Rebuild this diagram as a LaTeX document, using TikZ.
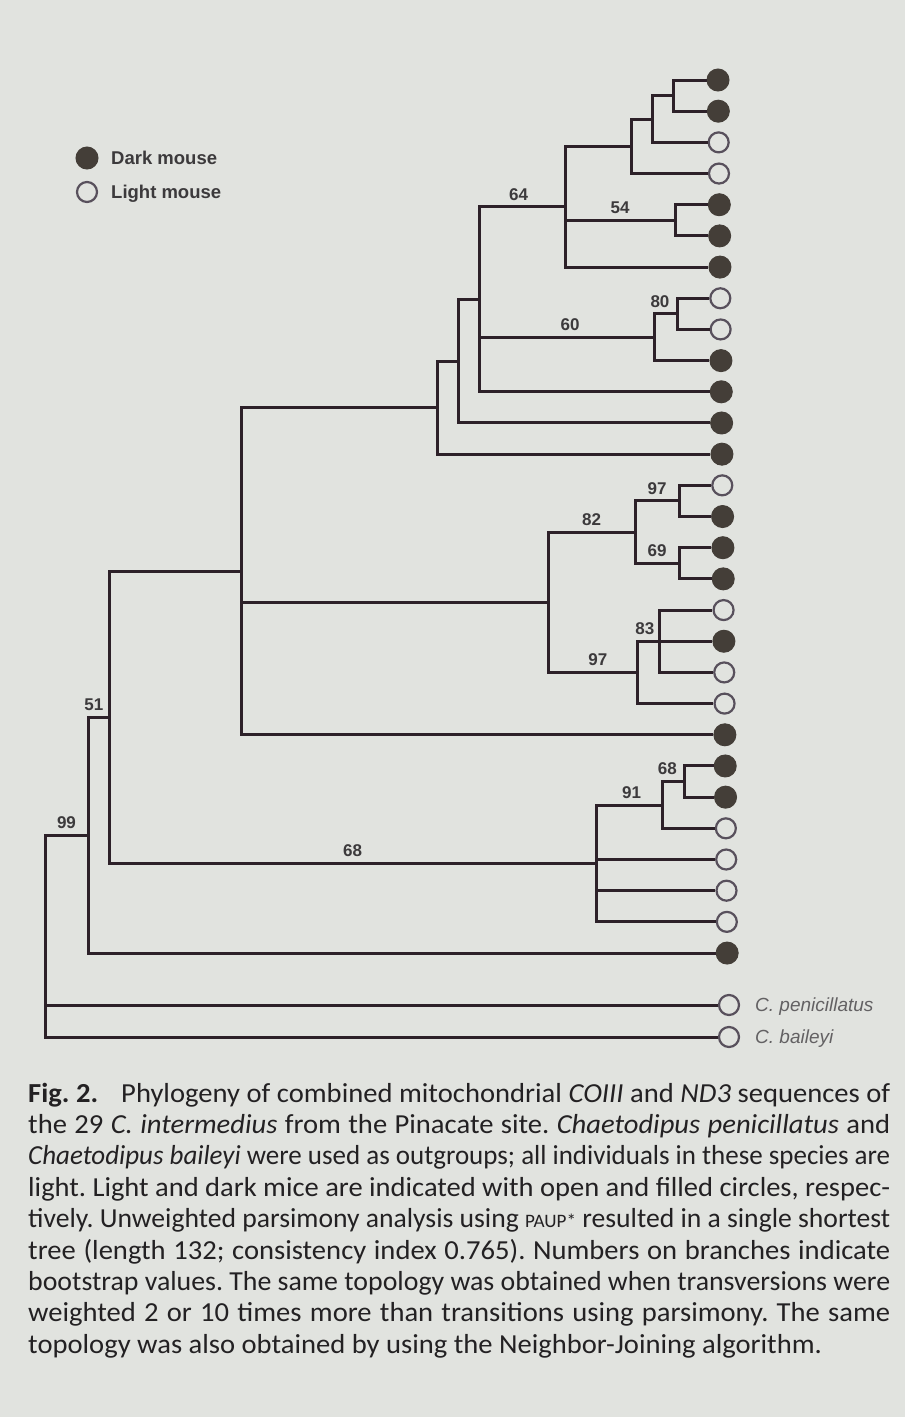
\documentclass[tikz,border=0pt]{standalone}
\usepackage{fontspec}
\usepackage{graphicx}
\setmainfont{Carlito}
\newfontfamily\capfont[FakeStretch=1.04]{Carlito}
\newfontfamily\arialf{Liberation Sans}
\definecolor{bg}{RGB}{225,227,223}
\definecolor{branch}{RGB}{45,33,41}
\definecolor{dotdark}{RGB}{68,62,56}
\definecolor{dotopen}{RGB}{88,80,92}
\definecolor{labc}{RGB}{60,58,60}
\definecolor{capc}{RGB}{35,33,35}
\newsavebox\capbox
\newcommand\capfit[1]{\sbox\capbox{#1}\ifdim\wd\capbox>862pt\relax\resizebox{862pt}{\ht\capbox}{\usebox\capbox}\else\makebox[862pt][s]{#1}\fi}
\tikzset{
  br/.style={draw=branch, line width=3pt, line join=miter},
  darkleaf/.style={circle, minimum size=22pt, inner sep=0pt, fill=dotdark, draw=dotdark, line width=1pt},
  lightleaf/.style={circle, minimum size=20pt, inner sep=0pt, fill=bg, draw=dotopen, line width=2.2pt},
  lab/.style={font=\arialf\bfseries\fontsize{17}{18}\selectfont, text=labc, inner sep=1pt, above=4pt},
  legtext/.style={font=\arialf\bfseries\fontsize{18.5}{20}\selectfont, text=labc, inner sep=0pt, anchor=base west},
  sptext/.style={font=\arialf\itshape\fontsize{19}{20}\selectfont, text=labc!80!white, inner sep=0pt, anchor=base west},
  capline/.style={font=\capfont\frenchspacing\fontsize{27.5}{31}\selectfont, text=capc, inner sep=0pt, anchor=base west}
}
\begin{document}
\begin{tikzpicture}[x=1pt,y=-1pt]
\useasboundingbox (0,0) rectangle (905,1417);
\fill[bg] (0,0) rectangle (905,1417);

% legend
\node[darkleaf] (legd) at (87,158) {};
\node[lightleaf] (legl) at (87,192) {};
\node[legtext] (legdt) at (111,164.5) {Dark mouse};
\node[legtext] (leglt) at (111,198.5) {Light mouse};

% leaves
\foreach \i/\t in {1/darkleaf,2/darkleaf,3/lightleaf,4/lightleaf,5/darkleaf,6/darkleaf,7/darkleaf,8/lightleaf,9/lightleaf,10/darkleaf,11/darkleaf,12/darkleaf,13/darkleaf,14/lightleaf,15/darkleaf,16/darkleaf,17/darkleaf,18/lightleaf,19/darkleaf,20/lightleaf,21/lightleaf,22/darkleaf,23/darkleaf,24/darkleaf,25/lightleaf,26/lightleaf,27/lightleaf,28/lightleaf,29/darkleaf}{
  \pgfmathsetmacro\yy{80+(\i-1)*31.18}
  \pgfmathsetmacro\xx{718+(\yy-80)*0.0105}
  \node[\t] (L\i) at (\xx,\yy) {};
}
\node[lightleaf] (Lpen) at (729,1005) {};
\node[lightleaf] (Lbai) at (729,1037) {};
\node[sptext] (tpen) at (755,1011.5) {C. penicillatus};
\node[sptext] (tbai) at (755,1043.5) {C. baileyi};

% internal nodes
\coordinate (n12) at (673,95.6);
\coordinate (n123) at (652,119);
\coordinate (nA) at (631,146.3);
\coordinate (n56) at (675,220.3);
\coordinate (n64) at (565,206.7);
\coordinate (n89) at (677,313.9);
\coordinate (n60) at (654,337.2);
\coordinate (nB) at (479,299.3);
\coordinate (nC) at (458,361.1);
\coordinate (nD) at (437,407.7);
\coordinate (n1415) at (679,500.9);
\coordinate (n1617) at (679,563.3);
\coordinate (n82) at (635,532.1);
\coordinate (n83) at (659,641.2);
\coordinate (n97b) at (637,672.4);
\coordinate (nF) at (548,602.3);
\coordinate (nE) at (241,571.3);
\coordinate (n2324) at (684,781.6);
\coordinate (n91) at (662,805);
\coordinate (n68) at (596,863.4);
\coordinate (n51) at (109,717.4);
\coordinate (n99) at (88,835.3);
\coordinate (root) at (45,936);

% branches
\draw[br] (n12) |- (L1.west);
\draw[br] (n12) |- (L2.west);
\draw[br] (n123) |- (n12);
\draw[br] (n123) |- (L3.west);
\draw[br] (nA) |- (n123);
\draw[br] (nA) |- (L4.west);
\draw[br] (n56) |- (L5.west);
\draw[br] (n56) |- (L6.west);
\draw[br] (n64) |- (nA);
\draw[br] (n64) |- (n56) node[lab, pos=0.75] {54};
\draw[br] (n64) |- (L7.west);
\draw[br] (n89) |- (L8.west);
\draw[br] (n89) |- (L9.west);
\draw[br] (n60) |- (n89) node[lab, pos=0.63] {80};
\draw[br] (n60) |- (L10.west);
\draw[br] (nB) |- (n64) node[lab, pos=0.73] {64};
\draw[br] (nB) |- (n60) node[lab, pos=0.76] {60};
\draw[br] (nB) |- (L11.west);
\draw[br] (nC) |- (nB);
\draw[br] (nC) |- (L12.west);
\draw[br] (nD) |- (nC);
\draw[br] (nD) |- (L13.west);
\draw[br] (n1415) |- (L14.west);
\draw[br] (n1415) |- (L15.west);
\draw[br] (n1617) |- (L16.west);
\draw[br] (n1617) |- (L17.west);
\draw[br] (n82) |- (n1415) node[lab, pos=0.75] {97};
\draw[br] (n82) |- (n1617) node[lab, pos=0.75] {69};
\draw[br] (n83) |- (L18.west);
\draw[br] (n83) |- (L19.west);
\draw[br] (n83) |- (L20.west);
\draw[br] (n97b) |- (n83) node[lab, pos=0.68] {83};
\draw[br] (n97b) |- (L21.west);
\draw[br] (nF) |- (n82) node[lab, pos=0.75] {82};
\draw[br] (nF) |- (n97b) node[lab, pos=0.78] {97};
\draw[br] (nE) |- (nD);
\draw[br] (nE) |- (nF);
\draw[br] (nE) |- (L22.west);
\draw[br] (n2324) |- (L23.west);
\draw[br] (n2324) |- (L24.west);
\draw[br] (n91) |- (n2324) node[lab, pos=0.62] {68};
\draw[br] (n91) |- (L25.west);
\draw[br] (n68) |- (n91) node[lab, pos=0.77] {91};
\draw[br] (n68) |- (L26.west);
\draw[br] (n68) |- (L27.west);
\draw[br] (n68) |- (L28.west);
\draw[br] (n51) |- (nE);
\draw[br] (n51) |- (n68) node[lab, pos=0.75] {68};
\draw[br] (n99) |- (n51) node[lab, pos=0.64] {51};
\draw[br] (n99) |- (L29.west);
\draw[br] (root) |- (n99) node[lab, pos=0.75] {99};
\draw[br] (root) |- (Lpen.west);
\draw[br] (root) |- (Lbai.west);

% caption
\node[capline] (cap1) at (28,1102) {\capfit{\mbox{\textbf{Fig. 2.}}\hspace*{0.6em} Phylogeny of combined mitochondrial \textit{COIII} and \textit{ND3} sequences of}};
\node[capline] (cap2) at (28,1133.4) {\capfit{the 29 \textit{C. intermedius} from the Pinacate site. \textit{Chaetodipus penicillatus} and}};
\node[capline] (cap3) at (28,1164.8) {\capfit{\textit{Chaetodipus baileyi} were used as outgroups; all individuals in these species are}};
\node[capline] (cap4) at (28,1196.2) {\capfit{light. Light and dark mice are indicated with open and filled circles, respec-}};
\node[capline] (cap5) at (28,1227.6) {\capfit{tively. Unweighted parsimony analysis using {\fontsize{19}{20}\selectfont PAUP*} resulted in a single shortest}};
\node[capline] (cap6) at (28,1259) {\capfit{tree (length 132; consistency index 0.765). Numbers on branches indicate}};
\node[capline] (cap7) at (28,1290.4) {\capfit{bootstrap values. The same topology was obtained when transversions were}};
\node[capline] (cap8) at (28,1321.8) {\capfit{weighted 2 or 10 times more than transitions using parsimony. The same}};
\node[capline] (cap9) at (28,1353.2) {topology was also obtained by using the Neighbor-Joining algorithm.};
\end{tikzpicture}
\end{document}
